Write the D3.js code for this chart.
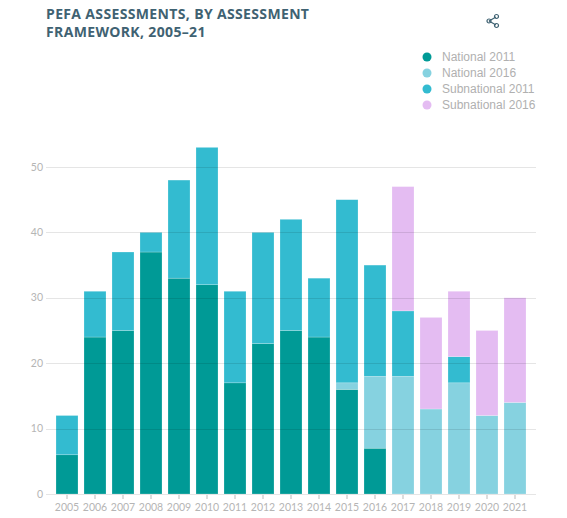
<!DOCTYPE html>
<html lang="en">
<head>
  <meta charset="UTF-8">
  <title>PEFA assessments</title>
  <script src="https://d3js.org/d3.v7.min.js"></script>
  <style>
    body { margin: 0; background: #fff; }
    .title { font-family: "Open Sans", sans-serif; font-weight: 700; font-size: 14px; letter-spacing: 0.35px; fill: #3f6272; }
    .legend text { font-family: "Liberation Sans", Arial, sans-serif; font-size: 12px; fill: #b0b0b0; }
    .axis text { font-family: Lato, "Open Sans", sans-serif; font-size: 10.5px; fill: #b5b5b5; }
    .grid line { stroke: #000; stroke-opacity: 0.1; }
  </style>
</head>
<body>
  <svg width="567" height="518"></svg>
  <script>
    const years = ["2005","2006","2007","2008","2009","2010","2011","2012","2013",
                   "2014","2015","2016","2017","2018","2019","2020","2021"];
    const seriesNames = ["National 2011", "National 2016", "Subnational 2011", "Subnational 2016"];
    const national2011    = [6, 24, 25, 37, 33, 32, 17, 23, 25, 24, 16, 7, 0, 0, 0, 0, 0];
    const national2016    = [0, 0, 0, 0, 0, 0, 0, 0, 0, 0, 1, 11, 18, 13, 17, 12, 14];
    const subnational2011 = [6, 7, 12, 3, 15, 21, 14, 17, 17, 9, 28, 17, 10, 0, 4, 0, 0];
    const subnational2016 = [0, 0, 0, 0, 0, 0, 0, 0, 0, 0, 0, 0, 19, 14, 10, 13, 16];
    const yTicks = [0, 10, 20, 30, 40, 50];
    const colors = ["#009a96", "#86d2e0", "#33bbd0", "#e4bcf2"];

    const rows = years.map((y, i) => ({
      year: y,
      "National 2011": national2011[i],
      "National 2016": national2016[i],
      "Subnational 2011": subnational2011[i],
      "Subnational 2016": subnational2016[i]
    }));

    const svg = d3.select("svg");

    const x = d3.scaleBand().domain(years).range([53, 529]).paddingInner(0.214).paddingOuter(0.107);
    const y = d3.scaleLinear().domain([0, 50]).range([494, 167]);
    const color = d3.scaleOrdinal().domain(seriesNames).range(colors);

    // title
    const title = svg.append("text").attr("class", "title").attr("x", 46);
    title.append("tspan").attr("x", 46).attr("y", 19).text("PEFA ASSESSMENTS, BY ASSESSMENT");
    title.append("tspan").attr("x", 46).attr("y", 37).text("FRAMEWORK, 2005\u201321");

    // share icon
    const icon = svg.append("g").attr("transform", "translate(493,21)")
      .attr("fill", "none").attr("stroke", "#3f6272").attr("stroke-width", 1.2);
    icon.append("path").attr("d", "M-4,0 L3,-4 M-4,0 L3,4");
    icon.append("circle").attr("cx", -4).attr("cy", 0).attr("r", 2);
    icon.append("circle").attr("cx", 3.5).attr("cy", -4.5).attr("r", 2);
    icon.append("circle").attr("cx", 3.5).attr("cy", 4.5).attr("r", 2);

    // legend
    const legend = svg.append("g").attr("class", "legend")
      .selectAll("g").data(seriesNames).join("g")
      .attr("transform", (d, i) => `translate(427,${57 + i * 16})`);
    legend.append("circle").attr("r", 4.5).attr("fill", d => color(d));
    legend.append("text").attr("x", 15).attr("dy", "0.36em").text(d => d);

    // bars
    const stacked = d3.stack().keys(seriesNames)(rows);
    svg.append("g").selectAll("g").data(stacked).join("g")
      .attr("fill", d => color(d.key))
      .selectAll("rect").data(d => d.filter(p => p[1] > p[0])).join("rect")
        .attr("x", d => x(d.data.year))
        .attr("width", x.bandwidth())
        .attr("y", d => y(d[1]))
        .attr("height", d => y(d[0]) - y(d[1]))
        .attr("stroke", "#fff").attr("stroke-opacity", 0.35).attr("stroke-width", 0.6);

    // grid over bars
    svg.append("g").attr("class", "grid")
      .selectAll("line").data(yTicks).join("line")
      .attr("x1", 46).attr("x2", 536)
      .attr("y1", d => Math.round(y(d)) + 0.5).attr("y2", d => Math.round(y(d)) + 0.5);

    // y axis labels
    svg.append("g").attr("class", "axis")
      .selectAll("text").data(yTicks).join("text")
      .attr("x", 43).attr("y", d => y(d)).attr("dy", "0.35em")
      .attr("text-anchor", "end").text(d => d);

    // x axis
    const xAxis = svg.append("g").attr("class", "axis")
      .attr("transform", "translate(0,495)")
      .call(d3.axisBottom(x).tickSize(4).tickPadding(5));
    xAxis.select(".domain").remove();
    xAxis.selectAll(".tick line").attr("stroke", "#bbb");
  </script>
</body>
</html>
